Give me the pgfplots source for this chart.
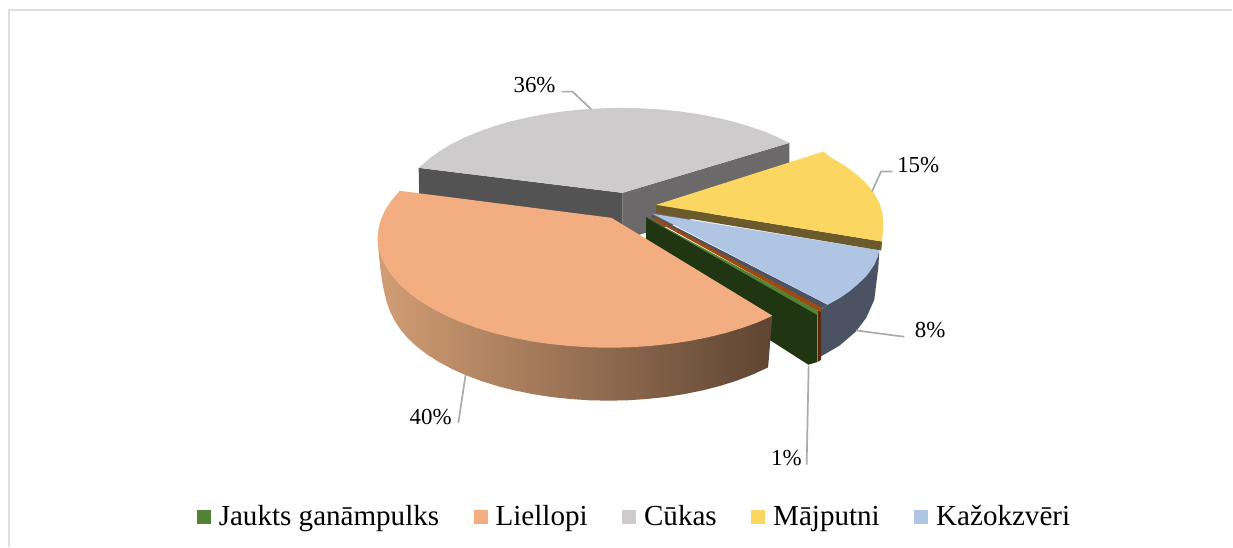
\documentclass[border=0pt]{standalone}
\usepackage{pgfplots}
\pgfplotsset{compat=1.18}
\usepackage{fontspec}
\setmainfont{Liberation Serif}
\definecolor{peachT}{HTML}{F2AE80}
\definecolor{peachL}{HTML}{D29D75}
\definecolor{peachM}{HTML}{8F6850}
\definecolor{peachR}{HTML}{5E4432}
\definecolor{greyT}{HTML}{CDCBCB}
\definecolor{greyL}{HTML}{535353}
\definecolor{greyR}{HTML}{6B6969}
\definecolor{yelT}{HTML}{FBD661}
\definecolor{yelW}{HTML}{6B5A2C}
\definecolor{bluT}{HTML}{B0C4E3}
\definecolor{bluW}{HTML}{4A5263}
\definecolor{oraT}{HTML}{9C4A10}
\definecolor{oraW}{HTML}{5A2A0A}
\definecolor{grnT}{HTML}{548235}
\definecolor{grnW}{HTML}{203512}
\definecolor{leader}{HTML}{ABABAB}
\definecolor{frame}{HTML}{DEDEDE}
\begin{document}
\begin{tikzpicture}
\begin{axis}[
  scale only axis, width=1233bp, height=547bp,
  xmin=0, xmax=1233, ymin=0, ymax=547, y dir=reverse,
  hide axis, clip=false,
  legend columns=5,
  legend style={draw=none, fill=none, at={(axis cs:635,517)}, anchor=center,
    font=\fontsize{29.2}{31}\selectfont, inner sep=0pt, outer sep=0pt,
    /tikz/every even column/.append style={column sep=32.5bp}},
  legend image code/.code={\fill[draw=none,#1] (0bp,-7bp) rectangle (14bp,7bp); \path[draw=none,fill=none] (0bp,0bp) -- (20bp,0bp);},
  legend cell align=left,
]
% page extent
\addplot[draw=none, forget plot] coordinates {(0,0) (1233,547)};
% frame
\addplot[frame, line width=2bp, forget plot] coordinates {(9,547) (9,10.5) (1233,10.5)};
% grey walls
\addplot[draw=none, fill=greyL, forget plot] coordinates {(419,168) (623,193) (623,240) (420,215)};
\addplot[draw=none, fill=greyR, forget plot] coordinates {(623,193) (790,143) (790,190) (623,240)};
% grey top
\addplot[draw=none, fill=greyT, forget plot] coordinates {(623,193) (419,168) (421.7,165.7) (430.6,158) (441,150.6) (452.7,143.7) (465.7,137.3) (480,131.4) (495.2,126.1) (511.5,121.4) (528.6,117.4) (546.4,114) (564.8,111.4) (583.6,109.5) (602.7,108.4) (622,108) (641.3,108.4) (660.4,109.5) (679.2,111.4) (697.6,114) (715.4,117.4) (732.5,121.4) (748.8,126.1) (764.1,131.4) (778.3,137.3) (790,143)};
% green wedge
\addplot[draw=none, fill=grnW, forget plot] coordinates {(646.7,217.3) (818,311.5) (818,362.3) (809,365) (646.7,261)};
\addplot[draw=none, fill=grnT, forget plot] coordinates {(648,218.5) (812,306.5) (818.5,311) (817.5,315)};
% orange wedge
\addplot[draw=none, fill=oraW, forget plot] coordinates {(818.3,311) (822.7,309) (821.7,360) (818.3,362.3)};
% blue
\addplot[draw=none, fill=bluW, forget plot] coordinates {(880,251.7) (879,268) (875,300) (867,318) (856.7,331.7) (840,346) (821.7,356.7) (821.7,310) (828.3,305)};
\addplot[draw=none, fill=bluW, forget plot] coordinates {(652.5,215) (828.3,305) (822.7,309) (652.5,218)};
\addplot[draw=none, fill=oraT, forget plot] coordinates {(655,217.3) (822.7,308) (821.7,312.5) (653.3,219.5)};
\addplot[draw=none, fill=bluT, forget plot] coordinates {(653.3,214) (880,250.5) (878.5,257) (875,265) (871,271) (866.7,276.7) (858.5,284.5) (850,291.7) (840,298.5) (828.3,305)};
% yellow
\addplot[draw=none, fill=yelW, forget plot] coordinates {(656.7,205) (882.7,241.7) (882,250.7) (656.7,213.3)};
\addplot[draw=none, fill=yelT, forget plot] coordinates {(656.7,205) (824,151.7) (831.6,157.7) (843.5,164.6) (854,172) (863,179.7) (870.5,187.8) (876.4,196.1) (880.6,204.6) (883.1,213.3) (884,222) (883.8,230) (882.7,241.7)};
% peach wall (horizontal gradient)
\addplot[draw=none, left color=peachL, middle color=peachM, right color=peachR, forget plot] coordinates {(773,316) (768.7,367.7) (751.7,375.5) (736.3,381.3) (720,386.4) (702.8,390.8) (684.9,394.4) (666.5,397.3) (647.5,399.3) (628.4,400.6) (609,401) (589.6,400.6) (570.4,399.3) (551.5,397.3) (533.1,394.4) (515.2,390.8) (498,386.4) (481.7,381.3) (466.3,375.5) (452,369.1) (439,362.1) (427.1,354.5) (416.7,346.5) (407.8,338.1) (400.4,329.3) (394.6,320.2) (390,310.9) (386.8,301.5) (384.5,292) (382.5,282) (380.8,270) (379.5,258) (378.5,246) (378,238)};
% peach top
\addplot[draw=none, fill=peachT, forget plot] coordinates {(612,218) (773,316) (759.1,322.3) (743.1,328.1) (726,333.3) (708,337.7) (689.3,341.4) (670,344.2) (650.3,346.3) (630.2,347.6) (610,348) (589.8,347.6) (569.7,346.3) (550,344.2) (530.7,341.4) (512,337.7) (494,333.3) (476.9,328.1) (460.9,322.3) (446,315.8) (432.3,308.7) (420,301.1) (409.1,293) (399.7,284.5) (392,275.6) (385.9,266.5) (381.5,257.1) (378.9,247.6) (378,238) (378.9,228.4) (381.5,218.9) (385.9,209.5) (392,200.4) (399.7,191.5) (400.3,191)};
% leaders
\addplot[leader, line width=1.7bp, forget plot] coordinates {(591.7,109.3) (573,91.7) (562,91.7)};
\addplot[leader, line width=1.7bp, forget plot] coordinates {(872.7,191.7) (881.7,171.7) (893,171.7)};
\addplot[leader, line width=1.7bp, forget plot] coordinates {(856.7,330.7) (905,337)};
\addplot[leader, line width=1.7bp, forget plot] coordinates {(809.3,366) (807.3,465)};
\addplot[leader, line width=1.7bp, forget plot] coordinates {(466,375) (458.7,423.3)};
% labels
\node[font=\fontsize{23}{25}\selectfont] at (axis cs:535,85) {36\%};
\node[font=\fontsize{23}{25}\selectfont] at (axis cs:919,165) {15\%};
\node[font=\fontsize{23}{25}\selectfont] at (axis cs:931,330) {8\%};
\node[font=\fontsize{23}{25}\selectfont] at (axis cs:431,417) {40\%};
\node[font=\fontsize{23}{25}\selectfont] at (axis cs:787,458) {1\%};
% legend
\addlegendimage{fill=grnT}\addlegendentry{Jaukts ganāmpulks}
\addlegendimage{fill=peachT}\addlegendentry{Liellopi}
\addlegendimage{fill=greyT}\addlegendentry{Cūkas}
\addlegendimage{fill=yelT}\addlegendentry{Mājputni}
\addlegendimage{fill=bluT}\addlegendentry{Kažokzvēri}
\end{axis}
\end{tikzpicture}
\end{document}
